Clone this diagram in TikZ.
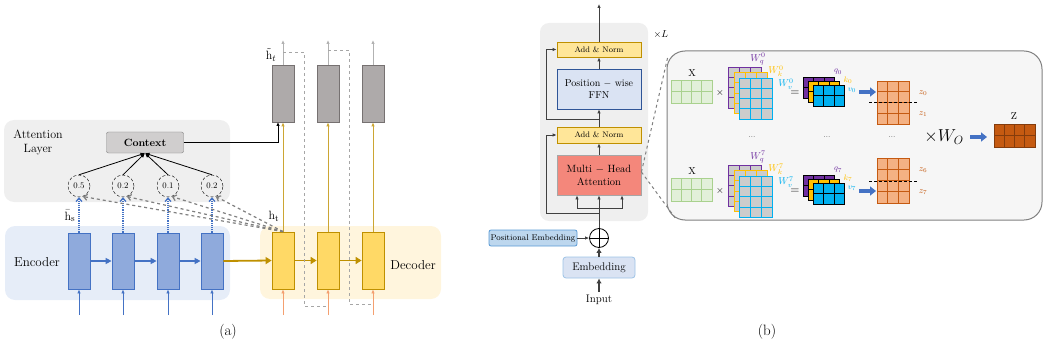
\documentclass[tikz,border=0pt]{standalone}
\usepackage{amsmath,amssymb}
\usepackage{xcolor}
\usetikzlibrary{positioning,calc,arrows.meta,shapes}

\definecolor{encfill}{HTML}{8FAADC}
\definecolor{encline}{HTML}{4472C4}
\definecolor{encbg}{HTML}{E6EDF8}
\definecolor{decfill}{HTML}{FFD966}
\definecolor{decline}{HTML}{BF9000}
\definecolor{decbg}{HTML}{FFF5DD}
\definecolor{hidfill}{HTML}{AEAAAA}
\definecolor{hidline}{HTML}{767171}
\definecolor{attbg}{HTML}{EFEFEF}
\definecolor{ctxfill}{HTML}{D0CECE}
\definecolor{inorange}{HTML}{F4A070}
\definecolor{flowgray}{HTML}{404040}
\definecolor{anfill}{HTML}{FFE699}
\definecolor{ffnfill}{HTML}{DAE3F3}
\definecolor{ffnline}{HTML}{2F5597}
\definecolor{mhafill}{HTML}{F4877B}
\definecolor{posfill}{HTML}{BDD7EE}
\definecolor{posline}{HTML}{5B9BD5}
\definecolor{embline}{HTML}{9DC3E6}
\definecolor{wq}{HTML}{7030A0}
\definecolor{wk}{HTML}{FFC000}
\definecolor{wv}{HTML}{00B0F0}
\definecolor{xfill}{HTML}{E2F0D9}
\definecolor{xline}{HTML}{A9D18E}
\definecolor{zfill}{HTML}{F4B183}
\definecolor{zline}{HTML}{C55A11}
\definecolor{zzline}{HTML}{843C0C}

% matrix of cells: x, y, cols, rows, cell width, cell height, style
\newcommand{\cellgrid}[7]{%
  \foreach \ci in {1,...,#3}
    \foreach \cj in {1,...,#4}
      \draw[#7] ({#1+(\ci-1)*#5},{#2+(\cj-1)*#6}) rectangle ++(#5,#6);
}

\begin{document}
\begin{tikzpicture}[x=1pt, y=-1pt,
    encbox/.style={draw=encline, fill=encfill, line width=0.8pt, minimum width=22pt, minimum height=56pt, inner sep=0pt},
    decbox/.style={draw=decline, fill=decfill, line width=0.8pt, minimum width=22pt, minimum height=57pt, inner sep=0pt},
    hidbox/.style={draw=hidline, fill=hidfill, line width=0.8pt, minimum width=22pt, minimum height=57pt, inner sep=0pt},
    weight/.style={draw, densely dashed, circle, minimum size=22pt, inner sep=0pt, font=\fontsize{8.5}{10}\selectfont},
    tbox/.style={draw, line width=0.8pt, minimum width=84pt, inner sep=0pt, align=center},
    tag/.style={inner sep=0pt},
    flow/.style={draw=flowgray, line width=1pt, -{Latex[length=4pt,width=3.5pt]}},
    bluearrow/.style={draw=encline, line width=3.5pt, -{Triangle[length=6pt,width=9pt]}},
  ]
\useasboundingbox (0,0) rectangle (1046,350);

% ---------- (a) ----------
% backgrounds
\fill[attbg, rounded corners=10pt] (4,120) rectangle (230,202);
\fill[encbg, rounded corners=10pt] (5,226) rectangle (230,300);
\fill[decbg, rounded corners=10pt] (260,226) rectangle (441,299);
\node[align=center, font=\fontsize{12}{14}\selectfont] (attlbl) at (38,142) {Attention\\Layer};
\node[font=\fontsize{13}{15}\selectfont] (enclbl) at (37,262) {Encoder};
\node[font=\fontsize{13}{15}\selectfont] (declbl) at (413,265) {Decoder};

% context and weights
\node[draw=gray, fill=ctxfill, rounded corners=2pt, minimum width=77pt, minimum height=21pt, font=\fontsize{10.5}{12}\selectfont\bfseries] (ctx) at (145,142.5) {Context};
\foreach \i/\xx/\w in {1/79/0.5, 2/123/0.2, 3/168/0.1, 4/212/0.2} {
  \node[weight] (c\i) at (\xx,186) {\w};
  \node[encbox] (e\i) at (\xx,261) {};
  \draw[line width=0.8pt, -{Latex[length=4.5pt,width=4pt]}] (c\i.north) -- (ctx.south);
  \draw[encline, densely dotted, line width=1.2pt, -{Straight Barb[length=3.5pt,width=6pt]}] (e\i.north) -- (c\i.south);
  \coordinate (ein\i) at (\xx,315);
  \draw[encline, line width=0.8pt, -{Latex[length=4pt,width=3.5pt]}] (ein\i) -- (e\i.south);
}
\foreach \i/\j in {1/2, 2/3, 3/4}
  \draw[encline, line width=1.5pt, -{Triangle[length=6pt,width=6pt]}] (e\i.east) -- (e\j.west);

% decoder
\foreach \i/\xx in {1/283, 2/328, 3/373} {
  \node[decbox] (d\i) at (\xx,260.5) {};
  \node[hidbox] (o\i) at (\xx,93.5) {};
  \draw[decline!80, line width=0.9pt, -{Latex[length=4pt,width=3.5pt]}] (d\i.north) -- (o\i.south);
  \coordinate (dout\i) at (\xx,40);
  \draw[gray!60, line width=0.9pt, -{Latex[length=4pt,width=3.5pt]}] (o\i.north) -- (dout\i);
  \coordinate (din\i) at (\xx,315);
  \draw[inorange, line width=0.8pt, -{Latex[length=4pt,width=3.5pt]}] (din\i) -- (d\i.south);
}
\draw[decline, line width=1.8pt, -{Triangle[length=6pt,width=7pt]}] (e4.east) -- (d1.west);
\draw[decline, line width=1.8pt, -{Triangle[length=6pt,width=7pt]}] (d1.east) -- (d2.west);
\draw[decline, line width=1.8pt, -{Triangle[length=6pt,width=7pt]}] (d2.east) -- (d3.west);

% attention scores
\foreach \i in {1,...,4}
  \draw[gray, dashed, line width=1.2pt, -{Straight Barb[length=3.5pt,width=6pt]}] (d1.north) -- (c\i.-70);

% context to output
\coordinate (ctxin) at (278,122);
\draw[line width=0.9pt, -{Latex[length=4pt,width=3.5pt]}] (ctx.east) -| (ctxin);

% feeding back
\draw[gray!70, dashed, line width=0.9pt] (283,52) -- (304,52) -- (304,306) -- (328,306);
\draw[gray!70, dashed, line width=0.9pt] (328,50) -- (349,50) -- (349,304) -- (373,304);

\node[tag, font=\fontsize{13}{15}\selectfont] (hs) at (70,216) {$\bar{\mathrm{h}}_{\mathrm{s}}$};
\node[tag, font=\fontsize{13}{15}\selectfont] (ht) at (274,216) {$\mathrm{h}_{\mathrm{t}}$};
\node[tag, font=\fontsize{13}{15}\selectfont] (htt) at (271,55) {$\tilde{\mathrm{h}}_t$};
\node[font=\fontsize{15}{17}\selectfont] (alabel) at (228,332) {(a)};

% ---------- (b) ----------
\fill[attbg, rounded corners=9pt] (540,23) rectangle (648,221);
\node[font=\fontsize{10}{11}\selectfont] (times) at (661,35) {$\times L$};

\node[tbox, draw=decline, fill=anfill, minimum height=15pt, font=\fontsize{8}{9}\selectfont] (an1) at (599,49.5) {Add \& Norm};
\node[tbox, draw=ffnline, fill=ffnfill, minimum height=40pt, font=\fontsize{10}{12}\selectfont] (ffn) at (599,89) {Position $-$ wise\\FFN};
\node[tbox, draw=decline, fill=anfill, minimum height=16pt, font=\fontsize{8}{9}\selectfont] (an2) at (599,135) {Add \& Norm};
\node[tbox, draw=gray!70, fill=mhafill, minimum height=40pt, font=\fontsize{10.5}{13}\selectfont] (mha) at (599,175) {Multi $-$ Head\\Attention};
\node[draw, circle, line width=0.8pt, minimum size=19pt, inner sep=0pt] (plus) at (599,238) {};
\draw[line width=0.8pt] (plus.north) -- (plus.south) (plus.west) -- (plus.east);
\node[draw=posline, fill=posfill, rounded corners=2pt, line width=0.8pt, minimum width=88pt, minimum height=16pt, inner sep=0pt, font=\fontsize{8.3}{9}\selectfont] (pos) at (533,238) {Positional Embedding};
\node[draw=embline, fill=ffnfill, rounded corners=3pt, line width=0.8pt, minimum width=72pt, minimum height=21pt, inner sep=0pt, font=\fontsize{11}{13}\selectfont] (emb) at (599,267.5) {Embedding};
\node[font=\fontsize{11}{13}\selectfont] (inp) at (599,300) {Input};

\coordinate (top) at (599,4);
\draw[flow] (an1.north) -- (top);
\draw[flow] (ffn.north) -- (an1.south);
\draw[flow] (an2.north) -- (ffn.south);
\draw[flow] (mha.north) -- (an2.south);
\draw[flow] (plus.north) -- (mha.south);
\coordinate (qin) at (577,208);
\coordinate (vin) at (622,208);
\draw[flow] (599,208) -- (qin) -- (qin |- mha.south);
\draw[flow] (599,208) -- (vin) -- (vin |- mha.south);
\draw[flow] (599,213) -- (546,213) |- (an2.west);
\draw[flow] (599,120) -- (546,120) |- (an1.west);
\draw[flow] (pos.east) -- (plus.west);
\draw[flowgray, line width=1.8pt, -{Latex[length=5pt,width=5.5pt]}] (emb.north) -- (plus.south);
\draw[flowgray, line width=1.8pt, -{Latex[length=5pt,width=5.5pt]}] (inp.north) -- (emb.south);

% multi-head detail
\draw[gray, line width=1pt, fill=gray!7, rounded corners=18pt] (667,51) rectangle (1042,220);
\draw[gray, dashed, line width=1pt] (mha.east) ++(0,-3) -- (668,56);
\draw[gray, dashed, line width=1pt] (mha.east) ++(0,-3) -- (676,219);

\foreach \dy/\k in {0/0, 98/7} {
  \cellgrid{671}{80+\dy}{4}{2}{10.25}{11.5}{draw=xline, fill=xfill, line width=0.8pt}
  \node[tag, font=\fontsize{10}{11}\selectfont] at (692,73+\dy) {X};
  \node[tag, font=\fontsize{10}{11}\selectfont] at (720,93+\dy) {$\times$};
  \cellgrid{728}{67+\dy}{3}{4}{11}{10.3}{draw=wq, fill=gray!40, line width=0.8pt}
  \cellgrid{734}{72.5+\dy}{3}{4}{11}{10.3}{draw=wk, fill=gray!40, line width=0.8pt}
  \cellgrid{739}{78+\dy}{3}{4}{11}{10.3}{draw=wv, fill=gray!40, line width=0.8pt}
  \node[tag, wq, font=\fontsize{10}{11}\selectfont] at (758,59+\dy) {$W_q^{\k}$};
  \node[tag, wk, font=\fontsize{10}{11}\selectfont] at (776,71+\dy) {$W_k^{\k}$};
  \node[tag, wv, font=\fontsize{10}{11}\selectfont] at (786,84+\dy) {$W_v^{\k}$};
  \node[tag, font=\fontsize{12}{13}\selectfont] at (795,93+\dy) {$=$};
  \cellgrid{803}{77+\dy}{3}{2}{10.6}{10.5}{draw=black, fill=wq, line width=0.8pt}
  \cellgrid{808}{81+\dy}{3}{2}{10.6}{10.5}{draw=black, fill=wk, line width=0.8pt}
  \cellgrid{813}{85+\dy}{3}{2}{10.6}{10.5}{draw=black, fill=wv, line width=0.8pt}
  \node[tag, wq, font=\fontsize{8}{9}\selectfont] at (838,72+\dy) {$q_{\k}$};
  \node[tag, wk, font=\fontsize{8}{9}\selectfont] at (848,80+\dy) {$k_{\k}$};
  \node[tag, wv, font=\fontsize{8}{9}\selectfont] at (852,90+\dy) {$v_{\k}$};
}
\coordinate (a0s) at (859,92);  \coordinate (a0e) at (876,92);
\coordinate (a7s) at (859,191); \coordinate (a7e) at (876,191);
\draw[bluearrow] (a0s) -- (a0e);
\draw[bluearrow] (a7s) -- (a7e);

\cellgrid{877}{81}{3}{4}{10.7}{10.75}{draw=zline, fill=zfill, line width=0.8pt}
\cellgrid{877}{158}{3}{4}{10.7}{11.25}{draw=zline, fill=zfill, line width=0.8pt}
\draw[densely dashed, line width=0.8pt] (869,102) -- (917,102);
\draw[densely dashed, line width=0.8pt] (869,181) -- (917,181);
\node[tag, zline, font=\fontsize{9}{10}\selectfont] at (923,93) {$z_0$};
\node[tag, zline, font=\fontsize{9}{10}\selectfont] at (923,114) {$z_1$};
\node[tag, zline, font=\fontsize{9}{10}\selectfont] at (923,170) {$z_6$};
\node[tag, zline, font=\fontsize{9}{10}\selectfont] at (923,192) {$z_7$};

\node[font=\fontsize{7}{8}\selectfont] at (752,137) {...};
\node[font=\fontsize{7}{8}\selectfont] at (827,137) {...};
\node[font=\fontsize{7}{8}\selectfont] at (892,137) {...};
\node[font=\fontsize{18}{20}\selectfont] (wo) at (944,137) {$\times W_O$};
\coordinate (zs) at (970,137); \coordinate (ze) at (987,137);
\draw[bluearrow] (zs) -- (ze);
\cellgrid{994}{124}{4}{2}{10.25}{11.5}{draw=zzline, fill=zline, line width=0.8pt}
\node[tag, font=\fontsize{10}{11}\selectfont] at (1014,116) {Z};

\node[font=\fontsize{15}{17}\selectfont] (blabel) at (767,332) {(b)};
\end{tikzpicture}
\end{document}
